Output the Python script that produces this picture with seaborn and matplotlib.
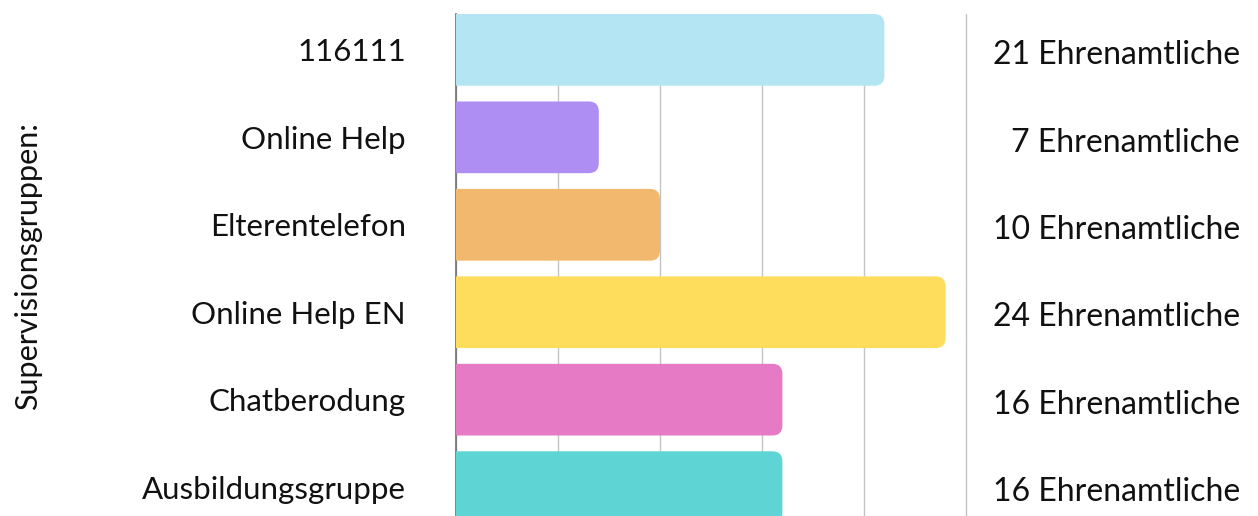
import matplotlib
matplotlib.use("Agg")
import matplotlib.pyplot as plt
import matplotlib.transforms as mtransforms
from matplotlib.patches import FancyBboxPatch
import seaborn as sns
import pandas as pd

# Supervision groups and number of volunteers in each
groups = ["116111", "Online Help", "Elterentelefon", "Online Help EN",
          "Chatberodung", "Ausbildungsgruppe"]
volunteers = [21, 7, 10, 24, 16, 16]
value_labels = ["21 Ehrenamtliche", "7 Ehrenamtliche", "10 Ehrenamtliche",
                "24 Ehrenamtliche", "16 Ehrenamtliche", "16 Ehrenamtliche"]
colors = ["#B4E5F2", "#AF8EF3", "#F2B96E", "#FFDD5C", "#E77AC4", "#5ED5D4"]
y_title = "Supervisionsgruppen:"

df = pd.DataFrame({"group": groups, "count": volunteers})

sns.set_theme(style="white")
plt.rcParams["font.family"] = ["Lato", "DejaVu Sans"]

W, H = 1258, 516
fig = plt.figure(figsize=(W / 100, H / 100), dpi=100)
ax = fig.add_axes([456 / W, 0, (968 - 456) / W, 1 - 14 / H])

sns.barplot(data=df, x="count", y="group", hue="group", palette=colors,
            saturation=1, orient="h", width=0.82, legend=False, ax=ax, zorder=2)

ax.set_xlim(0, 25 * 512 / 510)
ax.set_ylim(5.33, -0.41)
ax.set_xticks([0, 5, 10, 15, 20, 25])
ax.set_xticklabels([])
ax.grid(axis="x", color="#c4c4c4", linewidth=1.0, zorder=0)
ax.set_axisbelow(True)
for side in ["top", "right", "bottom"]:
    ax.spines[side].set_visible(False)
ax.spines["left"].set_color("#6e6e6e")
ax.spines["left"].set_linewidth(1.2)
ax.spines["left"].set_zorder(1)
ax.tick_params(axis="y", length=0, pad=36, labelsize=22.5, labelcolor="#111111")
ax.tick_params(axis="x", length=0)
ax.set_xlabel("")
ax.set_ylabel("")

# Round the right-hand corners of each bar
fig.canvas.draw()
px_per_x = ax.transData.transform((1, 0))[0] - ax.transData.transform((0, 0))[0]
px_per_y = abs(ax.transData.transform((0, 1))[1] - ax.transData.transform((0, 0))[1])
radius_px = 10
r_x = radius_px / px_per_x
aspect = px_per_x / px_per_y
for patch in list(ax.patches):
    x0, y0 = patch.get_x(), patch.get_y()
    w, h = patch.get_width(), patch.get_height()
    fc = patch.get_facecolor()
    patch.set_visible(False)
    rounded = FancyBboxPatch((x0 - 2 * r_x, y0), w + 2 * r_x, h,
                             boxstyle=f"round,pad=0,rounding_size={r_x}",
                             mutation_aspect=aspect, facecolor=fc,
                             edgecolor="none", zorder=2)
    ax.add_patch(rounded)

# Value labels in the right-hand column
trans = mtransforms.blended_transform_factory(fig.transFigure, ax.transData)
for i, txt in enumerate(value_labels):
    ax.text(1240 / W, i + 0.06, txt, transform=trans, ha="right", va="center",
            fontsize=23, color="#111111", clip_on=False)

fig.text(28 / W, 250 / H, y_title, rotation=90, ha="center", va="center",
         fontsize=22, color="#111111")

fig.savefig("out.png", dpi=100, facecolor="white")
